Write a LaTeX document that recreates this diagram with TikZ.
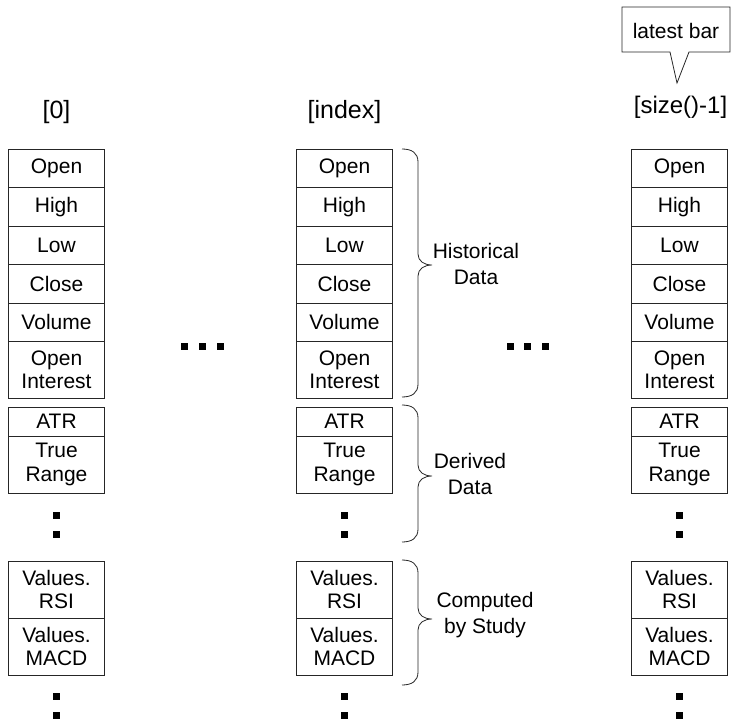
\documentclass[tikz,border=0pt]{standalone}
\usepackage{fontspec}
\setmainfont{Liberation Sans}
\newcommand\bracedraw[3]{%
  \draw[bline] (402,#1) .. controls (412,#1) and (418,{#1+4}) .. (418,{#1+13})
    -- (418,{#2-11}) .. controls (418,{#2-4}) and (424,#2) .. (432,#2)
    .. controls (424,#2) and (418,{#2+4}) .. (418,{#2+11})
    -- (418,{#3-13}) .. controls (418,{#3-4}) and (412,#3) .. (402,#3);}
\begin{document}
\begin{tikzpicture}[x=1pt,y=-1pt,
  bline/.style={draw=black!85, line width=0.8pt},
  cell/.style={bline, minimum width=95.5pt, inner sep=0pt, align=center,
    font=\fontsize{21}{23.5}\selectfont},
  lab/.style={align=center, inner sep=0pt, font=\fontsize{21}{26}\selectfont},
  idx/.style={inner sep=0pt, font=\fontsize{25}{30}\selectfont},
  sq/.style={fill=black, minimum size=7pt, inner sep=0pt}]
\useasboundingbox (0,0) rectangle (731,723);
\foreach \c/\x in {a/56.5, b/344.5, c/679.5} {
  \node[cell, minimum height=38.5pt] (\c open) at (\x,168.25) {Open};
  \node[cell, minimum height=38.5pt] (\c high) at (\x,206.75) {High};
  \node[cell, minimum height=38.5pt] (\c low) at (\x,245.25) {Low};
  \node[cell, minimum height=38.5pt] (\c close) at (\x,283.75) {Close};
  \node[cell, minimum height=38.5pt] (\c vol) at (\x,322.25) {Volume};
  \node[cell, minimum height=56.5pt] (\c oi) at (\x,369.75) {Open\\Interest};
  \node[cell, minimum height=29pt] (\c atr) at (\x,421.5) {ATR};
  \node[cell, minimum height=57pt] (\c tr) at (\x,464.5) {True\\Range};
  \node[sq] (\c d1) at (\x,515) {};
  \node[sq] (\c d2) at (\x,534) {};
  \node[cell, minimum height=57pt] (\c rsi) at (\x,589.5) {Values.\\RSI};
  \node[cell, minimum height=57pt] (\c macd) at (\x,646.5) {Values.\\MACD};
  \node[sq] (\c e1) at (\x,696) {};
  \node[sq] (\c e2) at (\x,715) {};
}
\node[idx] (l0) at (56.5,112) {[0]};
\node[idx] (lidx) at (344.5,112) {[index]};
\node[inner sep=0pt, font=\fontsize{24}{28}\selectfont] (lsize) at (680.5,107) {[size()-1]};
% horizontal ellipses
\node[sq] (h1) at (184.5,346.5) {};
\node[sq] (h2) at (202.5,346.5) {};
\node[sq] (h3) at (220,346.5) {};
\node[sq] (k1) at (510,346.5) {};
\node[sq] (k2) at (527.5,346.5) {};
\node[sq] (k3) at (545.5,346.5) {};
% braces
\bracedraw{149}{265}{397}
\bracedraw{405}{476}{542}
\bracedraw{560}{619}{685}
\node[lab] (hist) at (476,264) {Historical\\Data};
\node[lab] (der) at (470,474) {Derived\\Data};
\node[lab] (comp) at (485,615) {Computed\\by Study};
% callout
\draw[bline] (622,7) -- (730,7) -- (730,52) -- (689,52) -- (677,83) -- (670,52) -- (622,52) -- cycle;
\node[inner sep=0pt, font=\fontsize{21}{26}\selectfont] (latest) at (676,30.5) {latest bar};
\end{tikzpicture}
\end{document}
